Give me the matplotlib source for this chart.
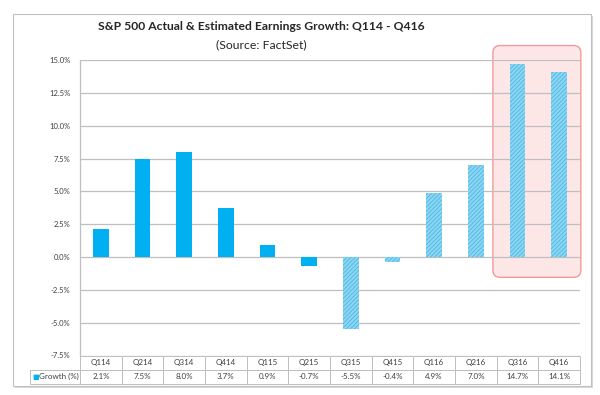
import matplotlib
matplotlib.use("Agg")
import matplotlib.pyplot as plt
from matplotlib.patches import Rectangle, FancyBboxPatch
from matplotlib.ticker import FuncFormatter

plt.rcParams['font.family'] = ['Lato', 'DejaVu Sans']
plt.rcParams['hatch.linewidth'] = 0.7

quarters = ['Q114', 'Q214', 'Q314', 'Q414', 'Q115', 'Q215',
            'Q315', 'Q415', 'Q116', 'Q216', 'Q316', 'Q416']
growth = [2.1, 7.5, 8.0, 3.7, 0.9, -0.7, -5.5, -0.4, 4.9, 7.0, 14.7, 14.1]
n_actual = 6  # first 6 are actual (solid), the rest estimates (hatched)
yticks = [-7.5, -5.0, -2.5, 0.0, 2.5, 5.0, 7.5, 10.0, 12.5, 15.0]

solid = '#00b0f0'
light = '#8fd6f2'
hatch_col = '#4fbbe6'
grid_col = '#bfbfbf'
text_col = '#404040'

fig = plt.figure(figsize=(6, 3.95), dpi=100)
W, H = 600, 395

# outer chart frame with a slight shadow
fig.patches.append(Rectangle((15 / W, 1 - 388 / H), 578 / W, 372 / H,
                             transform=fig.transFigure, facecolor='#d9d9d9',
                             edgecolor='none', zorder=-3))
fig.patches.append(Rectangle((13 / W, 1 - 386 / H), 578 / W, 372 / H,
                             transform=fig.transFigure, facecolor='white',
                             edgecolor='#c0c0c0', linewidth=0.8, zorder=-2))

ax = fig.add_axes([80 / W, 1 - 355.5 / H, 500 / W, 295.5 / H])
ax.set_facecolor('none')

for i, v in enumerate(growth):
    if i < n_actual:
        ax.bar(i, v, width=0.38, color=solid, edgecolor='none', zorder=3)
    else:
        ax.bar(i, v, width=0.38, facecolor=light, edgecolor=hatch_col,
               hatch='////////', linewidth=0, zorder=3)

ax.set_xlim(-0.5, len(quarters) - 0.5)
ax.set_ylim(-7.5, 15)
ax.set_yticks(yticks)
ax.yaxis.set_major_formatter(FuncFormatter(lambda v, p: f'{v:.1f}%'))
ax.tick_params(axis='y', length=0, pad=7, labelsize=5.5, labelcolor=text_col)
ax.set_xticks([])
ax.grid(axis='y', color=grid_col, linewidth=0.9, zorder=0)
for s in ['top', 'right', 'bottom']:
    ax.spines[s].set_visible(False)
ax.spines['left'].set_color(grid_col)
ax.spines['left'].set_linewidth(0.9)

# data table under the axis
labels = [f'{v:.1f}%' for v in growth]
col_w = [50 / 550] + [500 / 12 / 550] * 12
tab = ax.table(cellText=[[''] + quarters, ['Growth (%)'] + labels],
               colWidths=col_w, cellLoc='center',
               bbox=[-50 / 500, -28 / 295.5, 550 / 500, 28 / 295.5])
tab.auto_set_font_size(False)
tab.set_fontsize(5.8)
for (r, c), cell in tab.get_celld().items():
    cell.set_edgecolor(grid_col)
    cell.set_linewidth(0.7)
    cell.get_text().set_color(text_col)
    if r == 0 and c == 0:
        cell.visible_edges = ''
    if r == 1 and c == 0:
        cell.get_text().set_ha('right')
        cell._loc = 'right'
        cell.PAD = 0.03
tab[0, 0].set_facecolor('none')
ax.text(-48 / 500, -21 / 295.5, '\u25a0', transform=ax.transAxes,
        color=solid, fontsize=5, va='center', ha='left',
        family=['DejaVu Sans'])

# highlight box round the last two estimates, behind the bars
fig.canvas.draw()
x0, y0 = ax.transData.transform((len(quarters) - 2.59, -1.55))
x1, y1 = ax.transData.transform((len(quarters) - 0.48, 16.1))
inv = fig.transFigure.inverted()
(fx0, fy0), (fx1, fy1) = inv.transform((x0, y0)), inv.transform((x1, y1))
fig.patches.append(FancyBboxPatch((fx0, fy0), fx1 - fx0, fy1 - fy0,
                                  boxstyle='round,pad=0,rounding_size=0.012',
                                  mutation_aspect=W / H,
                                  transform=fig.transFigure,
                                  facecolor='#fde6e6',
                                  edgecolor='#f09a9a', linewidth=1.0,
                                  zorder=-1))

fig.text(261 / W, 1 - 27 / H, 'S&P 500 Actual & Estimated Earnings Growth: Q114 - Q416',
         ha='center', va='center', fontsize=8.7, fontweight='bold', color='#262626')
fig.text(261 / W, 1 - 45 / H, '(Source: FactSet)', ha='center', va='center',
         fontsize=8.8, color='#262626')

fig.savefig('out.png', dpi=100)
